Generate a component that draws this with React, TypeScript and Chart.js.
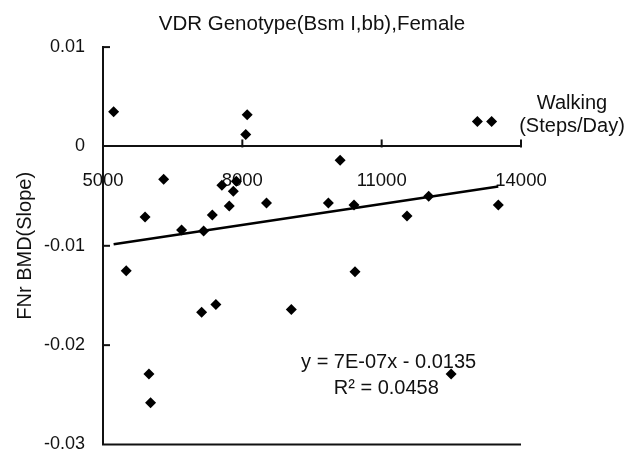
import React, { useEffect, useRef } from 'react';
import { Chart, registerables } from 'chart.js';

Chart.register(...registerables);

const TITLE = 'VDR Genotype(Bsm I,bb),Female';
const Y_TITLE = 'FNr BMD(Slope)';
const X_TITLE_LINES = ['Walking', '(Steps/Day)'];

const X_MIN = 5000;
const X_MAX = 14000;
const X_TICKS = [5000, 8000, 11000, 14000];
const Y_MIN = -0.03;
const Y_MAX = 0.01;
const Y_TICKS = [0.01, 0, -0.01, -0.02, -0.03];
const Y_TICK_LABELS = ['0.01', '0', '-0.01', '-0.02', '-0.03'];

// Walking (steps/day) per subject
const STEPS = [
  5229, 8105, 8074, 13061, 13367, 10105, 6306, 7559, 7871, 7806,
  7718, 8520, 9852, 10404, 5906, 7354, 6692, 7166, 12013, 11546,
  13511, 5500, 10426, 7124, 7430, 9055, 5989, 6024, 12496,
];
// FNr BMD slope per subject
const BMD_SLOPE = [
  0.0035, 0.0032, 0.0012, 0.0025, 0.0025, -0.0014, -0.0033, -0.0039, -0.0035, -0.0045,
  -0.0060, -0.0057, -0.0057, -0.0059, -0.0071, -0.0069, -0.0084, -0.0085, -0.0050, -0.0070,
  -0.0059, -0.0125, -0.0126, -0.0167, -0.0159, -0.0164, -0.0229, -0.0258, -0.0229,
];

// Linear trendline as reported on the chart
const TREND_SLOPE = 7e-7;
const TREND_INTERCEPT = -0.0135;
const EQUATION = 'y = 7E-07x - 0.0135';
const R_SQUARED = 'R\u00B2 = 0.0458';
const EQUATION_AT = { x: 11150, y: -0.0217 };
const R2_AT = { x: 11100, y: -0.0244 };

const FONT = '"Liberation Sans", Arial, Helvetica, sans-serif';
const INK = '#111';

export default function App() {
  const ref = useRef<HTMLCanvasElement | null>(null);

  useEffect(() => {
    const canvas = ref.current;
    if (!canvas) return;

    const points = STEPS.map((s, i) => ({ x: s, y: BMD_SLOPE[i] }));
    const xLo = Math.min(...STEPS);
    const xHi = Math.max(...STEPS);
    const trend = [
      { x: xLo, y: TREND_SLOPE * xLo + TREND_INTERCEPT },
      { x: xHi, y: TREND_SLOPE * xHi + TREND_INTERCEPT },
    ];

    const overlay = {
      id: 'overlay',
      afterDraw(chart: any) {
        const ctx = chart.ctx as CanvasRenderingContext2D;
        const xs = chart.scales.x;
        const ys = chart.scales.y;
        const area = chart.chartArea;
        const y0 = ys.getPixelForValue(0);
        ctx.save();
        ctx.strokeStyle = INK;
        ctx.lineWidth = 2;
        // bottom frame line at y min
        const yb = ys.getPixelForValue(Y_MIN);
        ctx.beginPath();
        ctx.moveTo(area.left - 1, yb);
        ctx.lineTo(area.right, yb);
        ctx.stroke();
        // inward ticks on y axis
        Y_TICKS.forEach((v) => {
          if (v === 0 || v === Y_MIN) return;
          const p = ys.getPixelForValue(v);
          ctx.beginPath();
          ctx.moveTo(area.left, p);
          ctx.lineTo(area.left + 7, p);
          ctx.stroke();
        });
        // upward ticks on x axis
        X_TICKS.forEach((v, i) => {
          if (i === 0) return;
          const p = xs.getPixelForValue(v);
          ctx.beginPath();
          ctx.moveTo(p, y0 + 1);
          ctx.lineTo(p, y0 - 7);
          ctx.stroke();
        });
        // x axis title
        ctx.fillStyle = INK;
        ctx.textAlign = 'center';
        ctx.textBaseline = 'middle';
        ctx.font = `20px ${FONT}`;
        ctx.fillText(X_TITLE_LINES[0], area.right + 51, y0 - 43);
        ctx.fillText(X_TITLE_LINES[1], area.right + 51, y0 - 20);
        // trendline equation
        ctx.fillText(EQUATION, xs.getPixelForValue(EQUATION_AT.x), ys.getPixelForValue(EQUATION_AT.y));
        ctx.fillText(R_SQUARED, xs.getPixelForValue(R2_AT.x), ys.getPixelForValue(R2_AT.y));
        ctx.restore();
      },
    };

    const chart = new Chart(canvas, {
      type: 'scatter',
      data: {
        datasets: [
          {
            type: 'scatter',
            label: 'data',
            data: points,
            pointStyle: 'rectRot',
            pointRadius: 5.5,
            pointBackgroundColor: '#000',
            pointBorderWidth: 0,
            order: 1,
          },
          {
            type: 'line',
            label: 'trend',
            data: trend,
            borderColor: '#000',
            borderWidth: 2.5,
            pointRadius: 0,
            fill: false,
            order: 2,
          } as any,
        ],
      },
      plugins: [overlay],
      options: {
        responsive: false,
        animation: false,
        devicePixelRatio: 1,
        layout: { padding: { left: 0, right: 0, top: 0, bottom: 3.3 } },
        plugins: {
          legend: { display: false },
          tooltip: { enabled: false },
          title: {
            display: true,
            text: TITLE,
            color: INK,
            font: { family: FONT, size: 20.5, weight: 'normal' },
            padding: { top: 12, bottom: 10.5 },
          },
        },
        scales: {
          x: {
            type: 'linear',
            position: { y: 0 } as any,
            min: X_MIN,
            max: X_MAX,
            afterBuildTicks: (scale: any) => {
              scale.ticks = X_TICKS.map((v) => ({ value: v }));
            },
            afterFit: (scale: any) => {
              scale.height = 0;
              scale.paddingLeft = 0;
              scale.paddingRight = 0;
            },
            grid: { display: false, drawTicks: false },
            border: { display: true, color: INK, width: 2 },
            ticks: {
              color: INK,
              font: { family: FONT, size: 18.5 },
              padding: 23,
              maxRotation: 0,
              autoSkip: false,
              callback: (v: any) => String(v),
            },
          },
          y: {
            type: 'linear',
            position: 'left',
            min: Y_MIN,
            max: Y_MAX,
            afterBuildTicks: (scale: any) => {
              scale.ticks = Y_TICKS.map((v) => ({ value: v }));
            },
            afterFit: (scale: any) => {
              scale.width = 103;
              scale.paddingTop = 0;
              scale.paddingBottom = 0;
            },
            grid: { display: false, drawTicks: false },
            border: { display: true, color: INK, width: 2 },
            ticks: {
              color: INK,
              font: { family: FONT, size: 18 },
              padding: 18,
              callback: (v: any) => {
                let best = 0;
                Y_TICKS.forEach((t, i) => {
                  if (Math.abs(t - v) < Math.abs(Y_TICKS[best] - v)) best = i;
                });
                return Y_TICK_LABELS[best];
              },
            },
            title: {
              display: true,
              text: Y_TITLE,
              color: INK,
              font: { family: FONT, size: 20 },
              padding: { top: 13, bottom: 0 },
            },
          },
          yRightSpace: {
            type: 'linear',
            position: 'right',
            display: true,
            min: Y_MIN,
            max: Y_MAX,
            afterFit: (scale: any) => {
              scale.width = 103;
              scale.paddingTop = 0;
              scale.paddingBottom = 0;
            },
            grid: { display: false, drawTicks: false },
            border: { display: false },
            ticks: { display: false },
          },
        },
      },
    });

    return () => chart.destroy();
  }, []);

  return (
    <div style={{ position: 'fixed', left: 0, top: 0, width: 624, height: 450, background: '#fff' }}>
      <canvas ref={ref} width={624} height={450} style={{ display: 'block' }} />
    </div>
  );
}
